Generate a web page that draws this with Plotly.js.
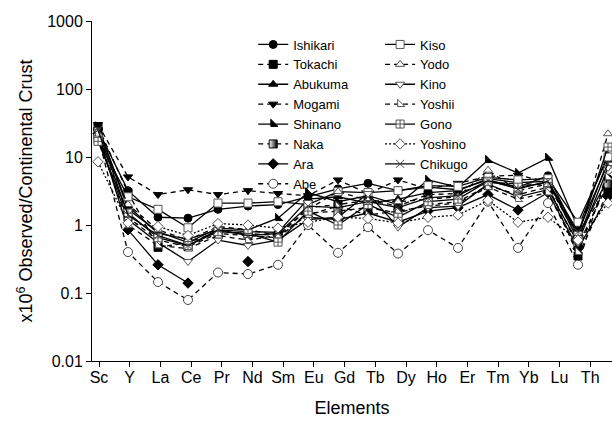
<!DOCTYPE html>
<html>
<head>
<meta charset="utf-8">
<script src="https://cdn.plot.ly/plotly-3.0.1.min.js"></script>
<style>html,body{margin:0;padding:0;background:#fff;}#chart{width:612px;height:422px;}</style>
</head>
<body>
<div id="chart"></div>
<script>
// Tick labels of the element axis (17 labels)
const elementLabels = ['Sc','Y','La','Ce','Pr','Nd','Sm','Eu','Gd','Tb','Dy','Ho','Er','Tm','Yb','Lu','Th'];
// Data point positions (18 points per series)
const pointIndex = [0,1,2,3,4,5,6,7,8,9,10,11,12,13,14,15,16,17];

// Series values (observed / continental crust, x10^6)
const ishikari = [25, 3.2, 1.3, 1.26, 1.7, 1.9, 2.0, 2.6, 3.4, 4.1, 3.2, 3.6, 3.3, 4.6, 3.6, 5.3, 0.7, 4.8];
const tokachi  = [28, 3.0, 0.47, 0.55, 0.8, 0.75, 0.7, 1.8, 2.0, 2.3, 1.9, 2.8, 2.9, 4.2, 4.0, 3.9, 0.35, 3.1];
const abukuma  = [27, 1.9, 0.75, 0.62, 0.85, 0.8, 0.78, 2.4, 2.6, 2.1, 2.4, 3.0, 3.2, 4.8, 4.2, 4.4, 0.6, 9];
const mogami   = [30, 5.1, 2.8, 3.3, 2.8, 3.2, 2.9, 2.7, 4.6, 2.9, 4.6, 3.4, 4.1, 5.2, 5.4, 4.3, 0.75, 3.6];
const shinano  = [28, 1.7, 0.8, 0.55, 0.9, 0.85, 1.26, 3.0, 2.2, 2.7, 2.0, 4.6, 3.6, 9.0, 5.8, 9.7, 0.9, 11];
const naka     = [24, 1.3, 0.6, 0.48, 0.75, 0.7, 0.65, 1.5, 1.6, 1.8, 1.5, 2.0, 2.2, 3.8, 2.8, 3.6, 0.5, 4.0];
const ara      = [22, 0.85, 0.26, 0.14, null, 0.29, null, 1.3, 1.2, 1.5, 1.1, 1.6, 1.8, 2.8, 1.66, 3.0, 0.45, 2.6];
const abe      = [20, 0.40, 0.145, 0.079, 0.2, 0.19, 0.26, 1.0, 0.39, 0.93, 0.38, 0.84, 0.46, 2.2, 0.46, 2.1, 0.26, 6.5];
const kiso     = [18, 2.6, 1.7, 0.91, 2.1, 2.1, 2.2, 2.0, 3.1, 3.0, 3.2, 3.8, 3.7, 5.0, 4.6, 4.8, 1.1, 10];
const yodo     = [20, 2.0, 0.85, 0.6, 0.95, 0.85, 0.7, 1.7, 3.1, 2.3, 2.2, 2.4, 2.6, 6.4, 3.2, 4.0, 0.65, 22];
const kino     = [18, 1.2, 0.55, 0.29, 0.6, 0.5, 0.6, 1.2, 1.3, 2.9, 0.93, 1.8, 1.9, 4.0, 2.6, 3.3, 0.55, 7];
const yoshii   = [22, 1.0, 0.5, 0.45, 0.7, 0.6, 0.7, 1.4, 1.9, 1.4, 1.6, 1.9, 2.1, 3.6, 2.4, 3.0, 0.4, 5];
const gono     = [17, 1.5, 0.65, 0.5, 0.8, 0.75, 0.56, 1.6, 1.0, 2.0, 1.3, 2.2, 2.4, 4.4, 3.6, 4.2, 0.7, 14];
const yoshino  = [8.5, 1.07, 0.95, 0.7, 1.05, 1.0, 0.9, 1.1, 1.3, 1.25, 1.07, 1.3, 1.4, 2.3, 1.1, 1.3, 0.6, 2.1];
const chikugo  = [25, 1.4, 0.7, 0.5, 0.85, 0.7, 0.75, 1.9, 1.8, 2.2, 1.8, 2.5, 2.7, 4.5, 3.4, 4.4, 0.8, 8];

const FONT = 'Liberation Sans, Arial, Helvetica, sans-serif';
const DASH = '5px,4px';
const DOT = '2px,2px';

function tr(name, y, legend, symbol, fill, dash, extra) {
  const t = {
    type: 'scatter', mode: 'lines+markers', name: name,
    x: pointIndex, y: y, xaxis: 'x', yaxis: 'y',
    legend: legend, connectgaps: false, cliponaxis: false,
    line: {color: '#000', width: 1.3, dash: dash},
    marker: {symbol: symbol, size: 8, color: fill, line: {color: '#000', width: 1}},
    hoverinfo: 'skip'
  };
  if (extra) extra(t);
  return t;
}

const traces = [
  tr('Ishikari', ishikari, 'legend', 'circle', '#000', 'solid'),
  tr('Tokachi', tokachi, 'legend', 'square', '#000', DASH),
  tr('Abukuma', abukuma, 'legend', 'triangle-up', '#000', 'solid'),
  tr('Mogami', mogami, 'legend', 'triangle-down', '#000', DASH),
  tr('Shinano', shinano, 'legend', 'triangle-sw', '#000', 'solid'),
  tr('Naka', naka, 'legend', 'square', '#fff', DASH, t => { t.marker.gradient = {type: 'horizontal', color: '#000'}; }),
  tr('Ara', ara, 'legend', 'diamond', '#000', 'solid'),
  tr('Abe', abe, 'legend', 'circle', '#fff', DASH, t => { t.marker.size = 9; t.marker.line.color = '#444'; }),
  tr('Kiso', kiso, 'legend2', 'square', '#fff', 'solid', t => { t.marker.line.color = '#555'; }),
  tr('Yodo', yodo, 'legend2', 'triangle-up', '#fff', DASH, t => { t.marker.line.color = '#555'; }),
  tr('Kino', kino, 'legend2', 'triangle-down', '#fff', 'solid', t => { t.marker.line.color = '#555'; }),
  tr('Yoshii', yoshii, 'legend2', 'triangle-sw', '#fff', DASH, t => { t.marker.line.color = '#555'; }),
  tr('Gono', gono, 'legend2', 'square-cross', '#fff', 'solid', t => { t.marker.line.color = '#555'; }),
  tr('Yoshino', yoshino, 'legend2', 'diamond', '#fff', DOT, t => { t.marker.line.color = '#555'; }),
  tr('Chikugo', chikugo, 'legend2', 'x-thin', '#000', 'solid', t => { t.marker.line.color = '#444'; })
];

// empty carrier trace for the element label axis
traces.push({type: 'scatter', mode: 'markers', x: [], y: [], xaxis: 'x2', yaxis: 'y', showlegend: false, hoverinfo: 'skip'});

const layout = {
  width: 612, height: 422,
  margin: {l: 92, r: 0, t: 21, b: 61},
  paper_bgcolor: '#fff', plot_bgcolor: '#fff',
  font: {family: FONT, color: '#000', size: 15},
  showlegend: true,
  xaxis: {
    range: [-0.2, 17.133], showline: true, linecolor: '#000', linewidth: 1,
    ticks: '', showticklabels: false, showgrid: false, zeroline: false, fixedrange: true
  },
  xaxis2: {
    overlaying: 'x', anchor: 'y', side: 'bottom',
    range: [-0.228, 16.71], tickmode: 'array',
    tickvals: elementLabels.map((_, j) => j), ticktext: elementLabels,
    ticks: 'outside', ticklen: 5, tickwidth: 1, tickcolor: '#000',
    ticklabelstandoff: -3,
    showline: false, showgrid: false, zeroline: false,
    tickfont: {family: FONT, size: 16},
    title: {text: 'Elements', font: {family: FONT, size: 18}, standoff: 16}
  },
  yaxis: {
    type: 'log', range: [-2, 3],
    tickmode: 'array',
    tickvals: [0.01, 0.1, 1, 10, 100, 1000],
    ticktext: ['0.01', '0.1', '1', '10', '100', '1000'],
    ticks: 'outside', ticklen: 5, tickwidth: 1, tickcolor: '#000',
    showline: true, linecolor: '#000', linewidth: 1,
    showgrid: false, zeroline: false,
    tickfont: {family: FONT, size: 16},
    title: {text: 'x10<sup>6</sup> Observed/Continental Crust', font: {family: FONT, size: 18}, standoff: 9}
  },
  legend: {
    x: 0.31, y: 0.975, xanchor: 'left', yanchor: 'top',
    bgcolor: 'rgba(0,0,0,0)', borderwidth: 0,
    font: {family: FONT, size: 13}, tracegroupgap: 0
  },
  legend2: {
    x: 0.554, y: 0.975, xanchor: 'left', yanchor: 'top',
    bgcolor: 'rgba(0,0,0,0)', borderwidth: 0,
    font: {family: FONT, size: 13}, tracegroupgap: 0
  }
};

Plotly.newPlot('chart', traces, layout, {staticPlot: true, displayModeBar: false});
</script>
</body>
</html>
